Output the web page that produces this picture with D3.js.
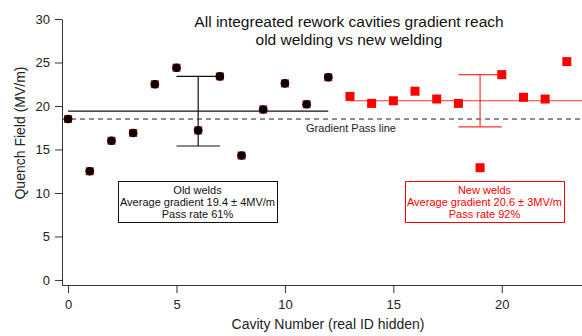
<!DOCTYPE html>
<html>
<head>
    <meta charset="utf-8">
    <title>Rework cavities gradient</title>
    <script src="https://cdn.jsdelivr.net/npm/d3@7"></script>
    <style>
        body { margin: 0; background: #fff; }
        text { font-family: "Liberation Sans", Arial, sans-serif; }
    </style>
</head>
<body>
    <script>
        // old welds: cavities 0..12
        var oldCavity = [0, 1, 2, 3, 4, 5, 6, 7, 8, 9, 10, 11, 12];
        var oldField  = [18.5, 12.5, 16.0, 16.9, 22.5, 24.4, 17.2, 23.4, 14.3, 19.6, 22.6, 20.2, 23.3];

        // new welds: cavities 13..23
        var newCavity = [13, 14, 15, 16, 17, 18, 19, 20, 21, 22, 23];
        var newField  = [21.1, 20.3, 20.6, 21.7, 20.8, 20.3, 12.9, 23.6, 21.0, 20.8, 25.1];

        var oldMean = 19.4, oldSd = 4;
        var newMean = 20.6, newSd = 3;
        var passLine = 18.5;

        var xTicks = [0, 5, 10, 15, 20];
        var yTicks = [0, 5, 10, 15, 20, 25, 30];

        var titleLines = ["All integreated rework cavities gradient reach", "old welding vs new welding"];
        var oldNote = ["Old welds", "Average gradient 19.4 \u00b1 4MV/m", "Pass rate 61%"];
        var newNote = ["New welds", "Average gradient 20.6 \u00b1 3MV/m", "Pass rate 92%"];

        var width = 582;
        var height = 336;

        var x = d3.scaleLinear()
                  .domain([-0.28, 23.7])
                  .range([62, 582]);

        var y = d3.scaleLinear()
                  .domain([-0.58, 30])
                  .range([285, 19]);

        var svg = d3.select("body").append("svg")
            .attr("width", width)
            .attr("height", height);

        // axes
        svg.append("g")
            .attr("transform", "translate(0,285)")
            .call(d3.axisBottom(x).tickValues(xTicks).tickSize(8).tickSizeOuter(0).tickPadding(7));

        svg.append("g")
            .attr("transform", "translate(62,0)")
            .call(d3.axisLeft(y).tickValues(yTicks).tickSize(7).tickSizeOuter(0).tickPadding(5));

        svg.selectAll(".tick text")
            .style("font-size", "13px")
            .style("font-family", "Liberation Sans, Arial, sans-serif")
            .attr("fill", "#222");
        svg.selectAll(".domain, .tick line").attr("stroke", "#333");

        // pass line
        svg.append("line")
            .attr("x1", x(-0.28)).attr("x2", x(23.7))
            .attr("y1", y(passLine)).attr("y2", y(passLine))
            .attr("stroke", "#222")
            .attr("stroke-dasharray", "5,4");

        svg.append("text")
            .attr("x", 351).attr("y", y(passLine) + 13)
            .attr("text-anchor", "middle")
            .style("font-size", "11px")
            .attr("fill", "#222")
            .text("Gradient Pass line");

        // mean lines + error bars
        function statLines(x0, x1, xc, mean, sd, color) {
            var g = svg.append("g").attr("stroke", color).attr("stroke-width", 1.2);
            g.append("line")
                .attr("x1", x(x0)).attr("x2", Math.min(x(x1), width))
                .attr("y1", y(mean)).attr("y2", y(mean));
            g.append("line")
                .attr("x1", x(xc)).attr("x2", x(xc))
                .attr("y1", y(mean + sd)).attr("y2", y(mean - sd));
            [mean + sd, mean - sd].forEach(function(v) {
                g.append("line")
                    .attr("x1", x(xc - 1)).attr("x2", x(xc + 1))
                    .attr("y1", y(v)).attr("y2", y(v));
            });
        }
        statLines(0, 12, 6, oldMean, oldSd, "#111");
        statLines(13, 24, 19, newMean, newSd, "#f33");

        // old points: red square under a black circle
        var oldData = oldCavity.map(function(c, i) { return {c: c, v: oldField[i]}; });
        var newData = newCavity.map(function(c, i) { return {c: c, v: newField[i]}; });

        svg.selectAll("rect.old")
            .data(oldData)
            .enter()
            .append("rect")
            .attr("class", "old")
            .attr("x", function(d) { return x(d.c) - 4; })
            .attr("y", function(d) { return y(d.v) - 4; })
            .attr("width", 8).attr("height", 8)
            .attr("fill", "#f00");

        svg.selectAll("circle.old")
            .data(oldData)
            .enter()
            .append("circle")
            .attr("class", "old")
            .attr("cx", function(d) { return x(d.c); })
            .attr("cy", function(d) { return y(d.v); })
            .attr("r", 4.3)
            .attr("fill", "#000");

        svg.selectAll("rect.new")
            .data(newData)
            .enter()
            .append("rect")
            .attr("class", "new")
            .attr("x", function(d) { return x(d.c) - 4.5; })
            .attr("y", function(d) { return y(d.v) - 4.5; })
            .attr("width", 9).attr("height", 9)
            .attr("fill", "#f00");

        // note boxes
        function note(x0, x1, lines, color) {
            svg.append("rect")
                .attr("x", x0 + 0.5).attr("y", 181.5)
                .attr("width", x1 - x0).attr("height", 41)
                .attr("fill", "#fff")
                .attr("stroke", color);
            svg.selectAll(null)
                .data(lines)
                .enter()
                .append("text")
                .attr("x", (x0 + x1) / 2)
                .attr("y", function(d, i) { return 194 + i * 12; })
                .attr("text-anchor", "middle")
                .style("font-size", "11px")
                .attr("fill", color)
                .text(function(d) { return d; });
        }
        note(118, 277, oldNote, "#111");
        note(405, 564, newNote, "#f00");

        // title
        svg.selectAll(null)
            .data(titleLines)
            .enter()
            .append("text")
            .attr("x", 349)
            .attr("y", function(d, i) { return 27 + i * 18; })
            .attr("text-anchor", "middle")
            .style("font-size", "15.5px")
            .attr("fill", "#111")
            .text(function(d) { return d; });

        // axis titles
        svg.append("text")
            .attr("x", 328).attr("y", 329)
            .attr("text-anchor", "middle")
            .style("font-size", "14px")
            .attr("fill", "#222")
            .text("Cavity Number (real ID hidden)");

        svg.append("text")
            .attr("transform", "translate(25,133) rotate(-90)")
            .attr("text-anchor", "middle")
            .style("font-size", "14px")
            .attr("fill", "#222")
            .text("Quench Field (MV/m)");
    </script>
</body>
</html>
